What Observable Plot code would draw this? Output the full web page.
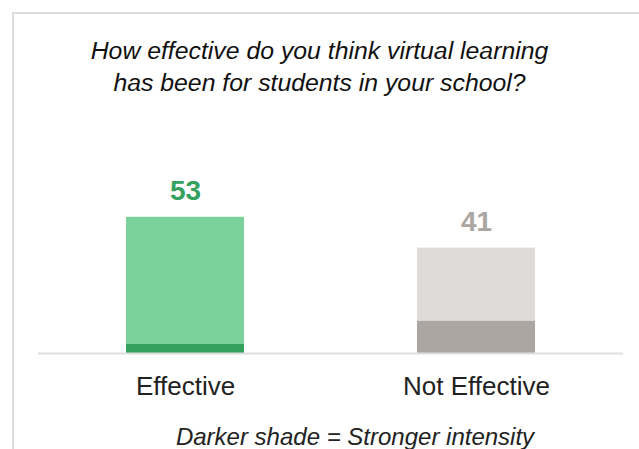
<!DOCTYPE html>
<html>
<head>
<meta charset="utf-8">
<script src="https://cdn.jsdelivr.net/npm/d3@7"></script>
<script src="https://cdn.jsdelivr.net/npm/@observablehq/plot@0.6"></script>
<style>
  html, body { margin: 0; padding: 0; background: #fff; }
  #wrap { position: relative; width: 639px; height: 449px; overflow: hidden; font-family: "Liberation Sans", Arial, sans-serif; }
  #frame { position: absolute; left: 12px; top: 12px; width: 700px; height: 500px; border-left: 2px solid #dedede; border-top: 2px solid #dedede; box-sizing: border-box; }
  #title { position: absolute; left: 0; width: 639px; top: 35px; text-align: center; font-style: italic; font-size: 24.8px; line-height: 32px; color: #111; }
  #caption { position: absolute; left: 0; width: 710px; top: 423px; text-align: center; font-style: italic; font-size: 24px; line-height: 28px; color: #222; }
  #chart { position: absolute; left: 0; top: 0; }
</style>
</head>
<body>
<div id="wrap">
  <div id="frame"></div>
  <div id="chart"></div>
  <div id="title">How effective do you think virtual learning<br>has been for students in your school?</div>
  <div id="caption">Darker shade = Stronger intensity</div>
</div>
<script>
const categories = ["Effective", "Not Effective"];
const totals = [53, 41];
const strong = [3.5, 12.5];
const lightColors = ["#7bd39b", "#dddcdb"];
const darkColors = ["#35a15e", "#aba6a2"];
const labelColors = ["#35a15e", "#aba6a2"];

const data = categories.map((c, i) => ({
  cat: c, total: totals[i], strong: strong[i],
  light: lightColors[i], dark: darkColors[i], label: labelColors[i]
}));

const chart = Plot.plot({
  width: 639,
  height: 449,
  marginLeft: 38,
  marginRight: 16,
  marginTop: 96,
  marginBottom: 96,
  x: { domain: categories, paddingInner: 0.596, paddingOuter: 0.30, axis: null },
  y: { domain: [0, 100], axis: null },
  marks: [
    Plot.barY(data, { x: "cat", y: "total", fill: d => d.light }),
    Plot.barY(data, { x: "cat", y: "strong", fill: d => d.dark }),
    Plot.ruleY([0], { stroke: "#dedede", strokeWidth: 2 }),
    Plot.text(data, { x: "cat", y: "total", text: d => String(d.total), dy: -26, fill: d => d.label, fontSize: 28, fontWeight: "bold", fontFamily: "Liberation Sans, Arial, sans-serif" }),
    Plot.text(data, { x: "cat", y: 0, text: "cat", dy: 33, fill: "#222", fontSize: 26, fontFamily: "Liberation Sans, Arial, sans-serif" })
  ]
});
document.getElementById("chart").appendChild(chart);
</script>
</body>
</html>
